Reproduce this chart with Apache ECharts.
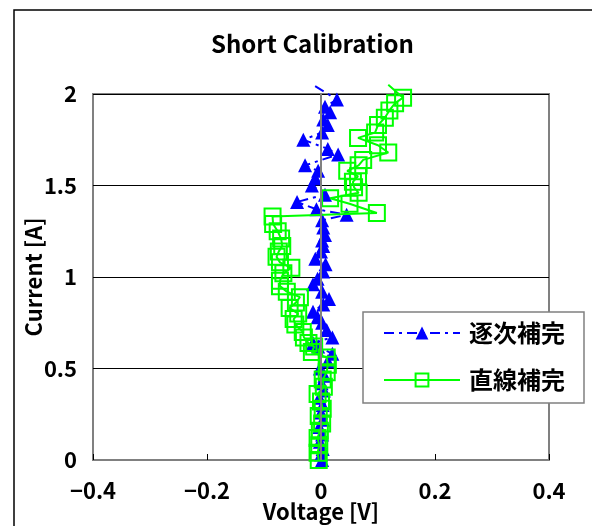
<!DOCTYPE html>
<html>
<head>
<meta charset="utf-8">
<script src="https://cdn.jsdelivr.net/npm/echarts@6/dist/echarts.min.js"></script>
<style>
  html, body { margin: 0; padding: 0; background: #fff; }
  #chart { width: 592px; height: 526px; }
</style>
</head>
<body>
<div id="chart"></div>
<script>
// 逐次補完 (triangles): current [A] and voltage [V], bottom to top
const seqCurrent = [0.00, 0.03, 0.06, 0.10, 0.14, 0.18, 0.22, 0.26, 0.30, 0.34, 0.38, 0.42, 0.46, 0.50,
    0.54, 0.58, 0.62, 0.64, 0.67, 0.71, 0.75, 0.78, 0.81, 0.85, 0.88, 0.92, 0.96, 0.99, 1.03, 1.07,
    1.10, 1.14, 1.17, 1.20, 1.23, 1.27, 1.31, 1.34, 1.37, 1.41, 1.45, 1.50, 1.54, 1.58, 1.61, 1.67,
    1.70, 1.75, 1.79, 1.83, 1.86, 1.90, 1.93, 1.97, 2.05];
const seqVoltage = [0.002, 0.000, 0.003, -0.002, 0.002, -0.003, 0.004, 0.000, 0.003, -0.003, 0.005, 0.001, 0.006, -0.002,
    0.012, 0.020, -0.005, -0.014, 0.020, 0.010, 0.002, -0.006, -0.014, 0.004, 0.014, 0.002, -0.014, -0.006, 0.004, 0.008,
    -0.010, 0.000, 0.004, 0.002, 0.007, 0.004, 0.002, 0.045, -0.008, -0.042, 0.007, -0.016, -0.010, -0.005, -0.028, 0.030,
    0.012, -0.031, 0.002, 0.012, 0.004, 0.016, 0.007, 0.028, -0.014];

// 直線補完 (squares)
const linCurrent = [0.00, 0.04, 0.08, 0.12, 0.16, 0.20, 0.24, 0.28, 0.32, 0.36, 0.40, 0.44, 0.48, 0.52,
    0.56, 0.59, 0.62, 0.64, 0.67, 0.70, 0.74, 0.77, 0.80, 0.83, 0.86, 0.89, 0.92, 0.95, 0.98, 1.02,
    1.05, 1.08, 1.11, 1.14, 1.17, 1.21, 1.25, 1.29, 1.33, 1.35, 1.40, 1.43, 1.46, 1.49, 1.52, 1.55,
    1.58, 1.61, 1.64, 1.68, 1.72, 1.76, 1.79, 1.83, 1.87, 1.91, 1.95, 1.98, 2.05];
const linVoltage = [-0.004, -0.006, -0.003, -0.006, -0.002, 0.002, -0.004, 0.003, 0.000, -0.006, 0.005, 0.003, 0.010, 0.012,
    0.010, -0.016, -0.012, -0.022, -0.030, -0.032, -0.045, -0.048, -0.040, -0.055, -0.044, -0.037, -0.060, -0.072, -0.072, -0.066,
    -0.052, -0.072, -0.078, -0.074, -0.068, -0.070, -0.076, -0.084, -0.085, 0.098, 0.050, 0.016, 0.066, 0.058, 0.056, 0.065,
    0.046, 0.066, 0.074, 0.118, 0.100, 0.065, 0.095, 0.100, 0.112, 0.120, 0.130, 0.144, 0.118];

const xTicks = [-0.4, -0.2, 0, 0.2, 0.4];
const yTicks = [0, 0.5, 1, 1.5, 2];

const FONT = '"Noto Sans CJK JP", "Noto Sans", sans-serif';

function toPoints(xs, ys) {
    return xs.map((x, i) => {
        const item = { value: [x, ys[i]] };
        if (ys[i] > 2) item.symbol = 'none';   // line runs past the top of the plot
        return item;
    });
}

const chart = echarts.init(document.getElementById('chart'), null, { renderer: 'canvas' });

chart.setOption({
    backgroundColor: '#fff',
    animation: false,
    title: {
        text: 'Short Calibration',
        left: 206, top: 27,
        textStyle: { fontFamily: FONT, fontSize: 24, fontWeight: 'bold', color: '#000' }
    },
    legend: {
        orient: 'vertical',
        left: 363, top: 312,
        padding: [9, 19, 11, 20],
        itemGap: 23,
        itemWidth: 76, itemHeight: 16,
        backgroundColor: '#fff',
        borderColor: '#808080', borderWidth: 1.5,
        textStyle: { fontFamily: FONT, fontSize: 24, fontWeight: 'bold', color: '#000', padding: [0, 0, 0, 4] },
        data: ['逐次補完', '直線補完']
    },
    grid: {
        left: 93, right: 43, top: 94, bottom: 66,
        outerBoundsMode: 'none',
        show: true, borderColor: '#808080', borderWidth: 2,
        containLabel: false
    },
    xAxis: {
        type: 'value', min: xTicks[0], max: xTicks[xTicks.length - 1], interval: 0.2,
        name: 'Voltage [V]', nameLocation: 'middle', nameGap: 41, nameMoveOverlap: false,
        nameTextStyle: { fontFamily: FONT, fontSize: 22, fontWeight: 'bold', color: '#000' },
        axisLine: { onZero: false, lineStyle: { color: '#808080', width: 2 } },
        axisTick: { show: true, inside: true, length: 6, lineStyle: { color: '#000' } },
        axisLabel: {
            fontFamily: FONT, fontSize: 22, fontWeight: 'bold', color: '#000', margin: 20,
            formatter: v => (v < 0 ? '\u2212' + Math.abs(v) : String(v))
        },
        splitLine: { show: false }
    },
    yAxis: {
        type: 'value', min: yTicks[0], max: yTicks[yTicks.length - 1], interval: 0.5,
        name: 'Current [A]', nameLocation: 'middle', nameGap: 48, nameMoveOverlap: false,
        nameTextStyle: { fontFamily: FONT, fontSize: 22, fontWeight: 'bold', color: '#000' },
        axisLine: { show: false },
        axisTick: { show: false },
        axisLabel: { fontFamily: FONT, fontSize: 22, fontWeight: 'bold', color: '#000', margin: 16 },
        splitLine: { show: true, lineStyle: { color: '#000', width: 1 } }
    },
    series: [
        {
            name: '逐次補完',
            type: 'line',
            data: toPoints(seqVoltage, seqCurrent),
            clip: false,
            symbol: 'triangle', symbolSize: 14,
            itemStyle: { color: '#0000ff' },
            lineStyle: { color: '#0000ff', width: 2, type: [10, 5, 3, 5] },
            markLine: {
                silent: true, symbol: 'none', label: { show: false },
                lineStyle: { color: '#808080', width: 2, type: 'solid' },
                data: [{ xAxis: 0 }]
            },
            z: 3
        },
        {
            name: '直線補完',
            type: 'line',
            data: toPoints(linVoltage, linCurrent),
            clip: false,
            symbol: 'rect', symbolSize: 16,
            itemStyle: { color: 'rgba(0,0,0,0)', borderColor: '#00ff00', borderWidth: 2 },
            lineStyle: { color: '#00ff00', width: 2 },
            z: 4
        }
    ],
    graphic: [
        {
            type: 'rect', silent: true, z: -1,
            shape: { x: 14, y: 10, width: 620, height: 560 },
            style: { fill: null, stroke: '#000', lineWidth: 1.5 }
        }
    ]
});
</script>
</body>
</html>
